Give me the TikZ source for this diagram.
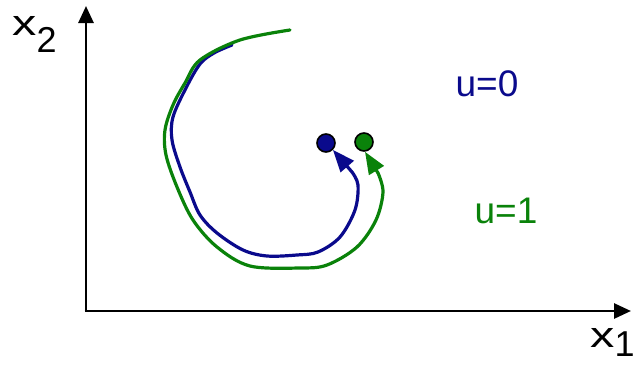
\documentclass[tikz,border=0pt]{standalone}
\usepackage{fontspec}
\setmainfont{Liberation Sans}
\usetikzlibrary{arrows.meta}
\definecolor{navy}{RGB}{10,10,140}
\definecolor{dgreen}{RGB}{10,130,10}
\begin{document}
\begin{tikzpicture}[x=1pt,y=-1pt,
  axis/.style={line width=2.8pt,-{Triangle[length=17pt,width=15pt]}},
  traj/.style={line width=3.2pt,line join=round,line cap=round},
  tip/.style={-{Triangle[length=22pt,width=17pt]}},
  dot/.style={circle,draw=black,line width=1.6pt,minimum size=18pt,inner sep=0pt},
  lbl/.style={font=\fontsize{37}{40}\selectfont,inner sep=0pt},
  xlbl/.style={font=\fontsize{36}{40}\selectfont,inner sep=0pt}]
\useasboundingbox (0,0) rectangle (638,367);
% axes
\coordinate (O) at (86,311);
\coordinate (ytop) at (86,6);
\coordinate (xend) at (631,311);
\draw[axis] (O) -- (ytop);
\draw[axis] ([xshift=-1.4pt]O) -- (xend);
% axis labels
\node[xlbl,anchor=base west] (x2) at (12,35) {\scalebox{1.35}[1.0]{x}\raisebox{-17pt}{2}};
\node[xlbl,anchor=base west] (x1) at (590,347) {\scalebox{1.35}[1.0]{x}\raisebox{-9pt}{1}};
% u labels
\node[lbl,text=navy] (u0) at (487,84) {u=0};
\node[lbl,text=dgreen] (u1) at (506,211) {u=1};
% end dots
\node[dot,fill=navy] (db) at (326,143) {};
\node[dot,fill=dgreen] (dg) at (364,142) {};
% trajectories
\coordinate (bend) at (352,172);
\coordinate (gend) at (378,173);
\draw[traj,navy] plot[smooth,tension=0.55] coordinates {(232,45) (214,53) (200,64) (186,88) (173,117) (172,140) (180,167) (190,192) (200,215) (217,233) (243,250) (267,256) (297,255) (318,252) (340,237) (355,210) (358,185) (352,172)};
\draw[traj,navy,tip] (bend) -- (db.south east);
\draw[traj,dgreen] plot[smooth,tension=0.55] coordinates {(290,30) (240,40) (200,60) (185,83) (173,105) (165,130) (166,155) (177,187) (193,220) (217,247) (250,266) (300,268) (327,265) (357,247) (376,220) (383,192) (378,173)};
\draw[traj,dgreen,tip] (gend) -- ([xshift=1pt]dg.south);
\end{tikzpicture}
\end{document}
